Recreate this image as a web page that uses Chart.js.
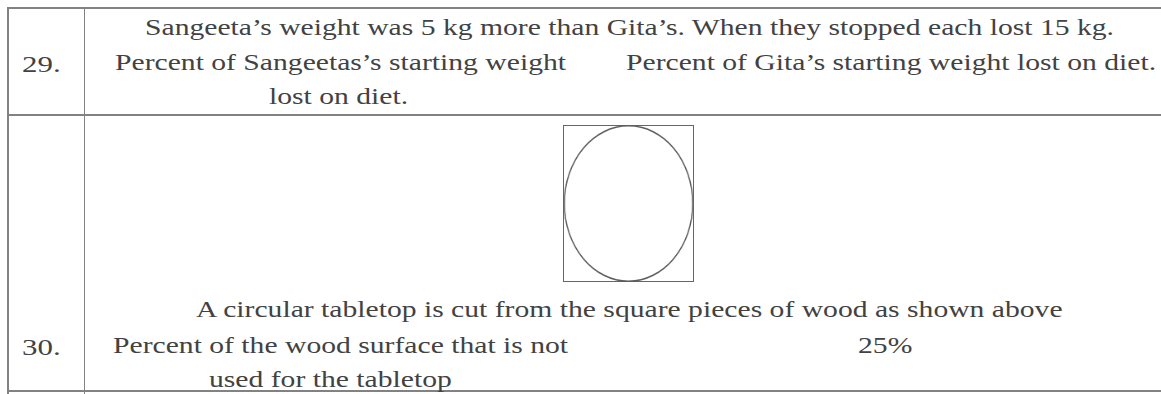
<!DOCTYPE html>
<html>
<head>
<meta charset="utf-8">
<script src="https://cdn.jsdelivr.net/npm/chart.js@4.4.1/dist/chart.umd.min.js"></script>
<style>
  html, body { margin: 0; padding: 0; background: #ffffff; }
  #page { position: relative; width: 1161px; height: 394px; overflow: hidden; background: #ffffff; }
  .rule { position: absolute; background: #828282; }
  .txt { position: absolute; white-space: nowrap; font-family: "Liberation Serif", "Times New Roman", serif;
         color: #424242; line-height: 1.107; transform-origin: 0 0; }
  #box { position: absolute; left: 563px; top: 125px; width: 129px; height: 155px; border: 1.5px solid #666666; }
  #figure { position: absolute; left: 550px; top: 125px; transform: scaleX(0.826); transform-origin: 78.5px 78.5px; }
</style>
</head>
<body>
<div id="page">
  <div id="box"></div>
  <canvas id="figure" width="157" height="157"></canvas>
</div>
<script>
// ---- content (data) ----
const rowNumbers = ["29.", "30."];
const row29Lines = [
  "Sangeeta\u2019s weight was 5 kg more than Gita\u2019s. When they stopped each lost 15 kg.",
  "Percent of Sangeetas\u2019s starting weight",
  "Percent of Gita\u2019s starting weight lost on diet.",
  "lost on diet."
];
const row30Lines = [
  "A circular tabletop is cut from the square pieces of wood as shown above",
  "Percent of the wood surface that is not",
  "25%",
  "used for the tabletop"
];
const tabletopLabels = ["Circular tabletop"];
const tabletopValues = [1];

// ---- layout (positions only) ----
const numberLayout = [{ x: 22, b: 72 }, { x: 22, b: 355 }];
const row29Layout = [{ x: 145, b: 35, end: 1114 }, { x: 115, b: 70 }, { x: 626, b: 70 }, { x: 269, b: 104 }];
const row30Layout = [{ x: 196, b: 317 }, { x: 113, b: 353 }, { x: 858, b: 353 }, { x: 209, b: 387 }];
const rules = [
  { x: 7, y: 7, w: 1154, h: 2 },     // top
  { x: 7, y: 114, w: 1154, h: 2 },   // middle
  { x: 7, y: 390, w: 1154, h: 1.5 }, // bottom
  { x: 7, y: 7, w: 2, h: 387 },      // left
  { x: 83.5, y: 7, w: 1.5, h: 387 }  // column divider
];

const page = document.getElementById('page');
rules.forEach(r => {
  const d = document.createElement('div');
  d.className = 'rule';
  d.style.left = r.x + 'px'; d.style.top = r.y + 'px';
  d.style.width = r.w + 'px'; d.style.height = r.h + 'px';
  page.appendChild(d);
});

function place(text, lay, size, scale) {
  const s = document.createElement('span');
  s.className = 'txt';
  s.textContent = text;
  s.style.fontSize = size + 'px';
  s.style.left = lay.x + 'px';
  s.style.top = (lay.b - 0.891 * size) + 'px';
  page.appendChild(s);
  let sc = scale;
  if (lay.end) {
    sc = (lay.end - lay.x) / s.getBoundingClientRect().width;
  }
  s.style.transform = 'scaleX(' + sc + ')';
  return sc;
}

// the scan is stretched horizontally: one common stretch factor, fitted on the first line
const FS = 23;
const stretch = place(row29Lines[0], row29Layout[0], FS, 1);
row29Lines.slice(1).forEach((t, i) => place(t, row29Layout[i + 1], FS, stretch));
row30Lines.forEach((t, i) => place(t, row30Layout[i], FS, stretch));
rowNumbers.forEach((t, i) => place(t, numberLayout[i], 24, stretch));

// ---- the tabletop (ellipse) drawn with Chart.js ----
new Chart(document.getElementById('figure'), {
  type: 'doughnut',
  data: {
    labels: tabletopLabels,
    datasets: [{ data: tabletopValues, backgroundColor: ['#5e5e5e'], borderWidth: 0, hoverOffset: 0 }]
  },
  options: {
    responsive: false,
    animation: false,
    cutout: '98%',
    layout: { padding: 0 },
    plugins: { legend: { display: false }, tooltip: { enabled: false } },
    events: []
  }
});
</script>
</body>
</html>
